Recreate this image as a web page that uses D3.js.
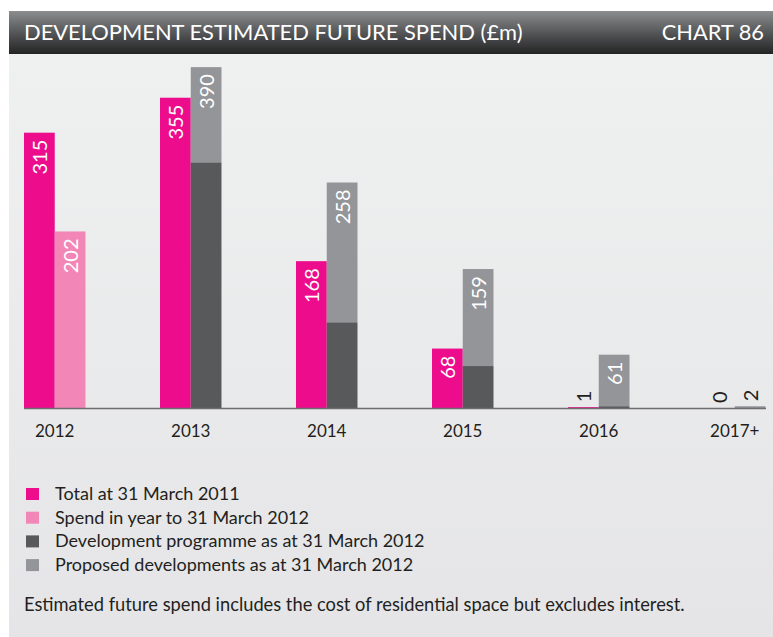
<!DOCTYPE html>
<html>
<head>
<meta charset="utf-8">
<script src="https://cdn.jsdelivr.net/npm/d3@7"></script>
<style>
  html, body { margin: 0; padding: 0; background: #ffffff; }
  svg { display: block; }
  text { font-family: Lato, "Open Sans", sans-serif; }
</style>
</head>
<body>
<svg id="chart" width="773" height="637"></svg>
<script>
// Development estimated future spend (£m) by year
const categories = ["2012", "2013", "2014", "2015", "2016", "2017+"];
const total2011 = [315, 355, 168, 68, 1, 0];          // Total at 31 March 2011
const spendInYear = [202, null, null, null, null, null]; // Spend in year to 31 March 2012
const devProgramme = [null, 281, 98, 48, 2, 0];       // Development programme as at 31 March 2012
const secondTotal = [null, 390, 258, 159, 61, 2];     // Development programme + proposed developments

const legendLabels = [
  "Total at 31 March 2011",
  "Spend in year to 31 March 2012",
  "Development programme as at 31 March 2012",
  "Proposed developments as at 31 March 2012"
];
const titleText = "DEVELOPMENT ESTIMATED FUTURE SPEND (£m)";
const chartNo = "CHART 86";
const footnote = "Estimated future spend includes the cost of residential space but excludes interest.";

const colors = {
  total: "#ec0c8c",
  spend: "#f287b7",
  dev: "#58595b",
  proposed: "#939598"
};
const legendColors = [colors.total, colors.spend, colors.dev, colors.proposed];

const svg = d3.select("#chart");
const defs = svg.append("defs");

const hdr = defs.append("linearGradient").attr("id", "hdr").attr("x1", 0).attr("x2", 0).attr("y1", 0).attr("y2", 1);
hdr.append("stop").attr("offset", "0%").attr("stop-color", "#8c8d8f");
hdr.append("stop").attr("offset", "55%").attr("stop-color", "#505153");
hdr.append("stop").attr("offset", "100%").attr("stop-color", "#242424");

const bg = defs.append("linearGradient").attr("id", "bg").attr("x1", 0).attr("x2", 0).attr("y1", 0).attr("y2", 1);
bg.append("stop").attr("offset", "0%").attr("stop-color", "#eff0f0");
bg.append("stop").attr("offset", "100%").attr("stop-color", "#e5e5e7");

// panel background and header strip
svg.append("rect").attr("x", 9).attr("y", 54).attr("width", 764).attr("height", 583).attr("fill", "url(#bg)");
svg.append("rect").attr("x", 9).attr("y", 11).attr("width", 764).attr("height", 43).attr("fill", "url(#hdr)");

svg.append("text").attr("x", 24).attr("y", 40).attr("fill", "#ffffff")
  .attr("font-size", 21.9).text(titleText);
svg.append("text").attr("x", 764).attr("y", 40).attr("fill", "#ffffff")
  .attr("text-anchor", "end").attr("font-size", 21.8).text(chartNo);

// scales
const baseY = 408;
const x = d3.scaleBand().domain(categories).range([24, 765.5]).paddingInner(0.548).paddingOuter(0).align(0);
const sub = d3.scaleBand().domain(["a", "b"]).range([0, x.bandwidth()]).padding(0);
const y = d3.scaleLinear().domain([0, 400]).range([baseY, baseY - 349.6]);

const rows = categories.map((c, i) => ({
  cat: c,
  total: total2011[i],
  spend: spendInYear[i],
  dev: devProgramme[i],
  second: secondTotal[i]
}));

const g = svg.append("g");

// first bar: total at 31 March 2011
g.selectAll("rect.total").data(rows).join("rect")
  .attr("class", "total")
  .attr("x", d => x(d.cat) + sub("a"))
  .attr("width", sub.bandwidth())
  .attr("y", d => y(d.total))
  .attr("height", d => baseY - y(d.total))
  .attr("fill", colors.total);

// second bar: spend in year (2012) or stacked development / proposed
rows.forEach(d => {
  const bx = x(d.cat) + sub("b");
  if (d.spend != null) {
    g.append("rect").attr("x", bx).attr("width", sub.bandwidth())
      .attr("y", y(d.spend)).attr("height", baseY - y(d.spend)).attr("fill", colors.spend);
  } else {
    g.append("rect").attr("x", bx).attr("width", sub.bandwidth())
      .attr("y", y(d.second)).attr("height", y(d.dev) - y(d.second)).attr("fill", colors.proposed);
    g.append("rect").attr("x", bx).attr("width", sub.bandwidth())
      .attr("y", y(d.dev)).attr("height", baseY - y(d.dev)).attr("fill", colors.dev);
  }
});

// baseline
svg.append("line").attr("x1", 24).attr("x2", 766).attr("y1", baseY + 0.5).attr("y2", baseY + 0.5)
  .attr("stroke", "#6d6e70").attr("stroke-width", 1.5);

// vertical value labels
function valueLabel(cx, v) {
  const top = y(v);
  const inside = baseY - top > 40;
  const py = inside ? top + 7 : top - 5;
  g.append("text")
    .attr("transform", `translate(${cx},${py}) rotate(-90)`)
    .attr("text-anchor", inside ? "end" : "start")
    .attr("dominant-baseline", "central")
    .attr("font-size", 20)
    .attr("fill", inside ? "#ffffff" : "#231f20")
    .text(v);
}
rows.forEach(d => {
  valueLabel(x(d.cat) + sub("a") + sub.bandwidth() / 2, d.total);
  const v2 = d.spend != null ? d.spend : d.second;
  valueLabel(x(d.cat) + sub("b") + sub.bandwidth() / 2, v2);
});

// category axis labels
svg.append("g").selectAll("text").data(categories).join("text")
  .attr("x", c => x(c) + sub("b"))
  .attr("y", 437)
  .attr("text-anchor", "middle")
  .attr("font-size", 17)
  .attr("fill", "#231f20")
  .text(c => c);

// legend
const leg = svg.append("g");
legendLabels.forEach((lab, i) => {
  const ly = 488 + i * 23.7;
  leg.append("rect").attr("x", 26).attr("y", ly).attr("width", 13).attr("height", 12).attr("fill", legendColors[i]);
  leg.append("text").attr("x", 55).attr("y", ly + 12).attr("font-size", 18).attr("fill", "#231f20").text(lab);
});

svg.append("text").attr("x", 24).attr("y", 611).attr("font-size", 18.3).attr("fill", "#231f20").text(footnote);
</script>
</body>
</html>
